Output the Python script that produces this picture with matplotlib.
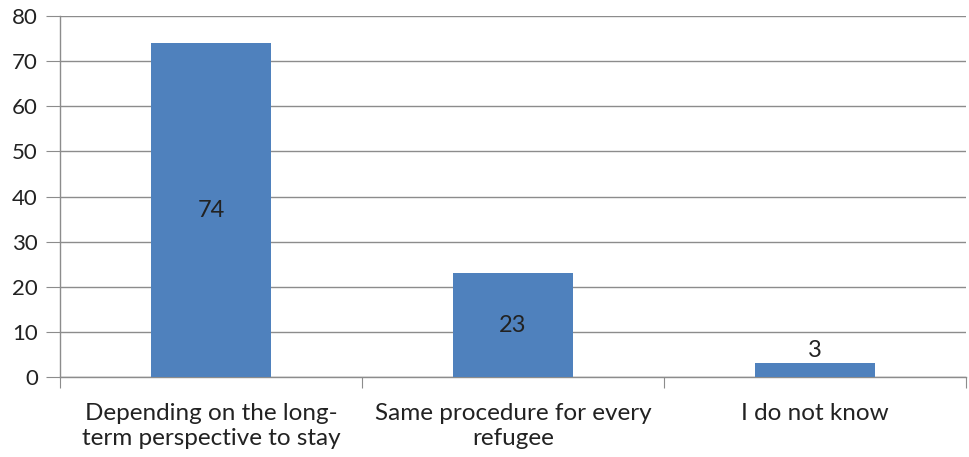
import matplotlib
matplotlib.use("Agg")
import matplotlib.pyplot as plt

categories = ["Depending on the long-\nterm perspective to stay",
              "Same procedure for every\nrefugee",
              "I do not know"]
values = [74, 23, 3]
y_ticks = [0, 10, 20, 30, 40, 50, 60, 70, 80]

plt.rcParams["font.family"] = ["Lato", "DejaVu Sans"]

fig = plt.figure(figsize=(9.7, 4.57), dpi=100)
ax = fig.add_axes([0.0619, 0.175, 0.934, 0.79])

positions = list(range(len(values)))
bars = ax.bar(positions, values, width=0.4, color="#4F81BD", zorder=3)

# labels: centred inside tall bars, above the short one
for x, v in zip(positions, values):
    if v > 10:
        ax.text(x, v / 2, str(v), ha="center", va="center", fontsize=17, color="#222222", zorder=4)
    else:
        ax.text(x, v + 0.5, str(v), ha="center", va="bottom", fontsize=17, color="#222222", zorder=4)

ax.set_xlim(-0.5, 2.5)
ax.set_ylim(0, 80)
ax.set_yticks(y_ticks)
ax.yaxis.grid(True, color="#8c8c8c", linewidth=1.0, zorder=0)
ax.set_axisbelow(True)

ax.set_xticks([-0.5, 0.5, 1.5, 2.5])
ax.set_xticklabels([])
ax.set_xticks(positions, minor=True)
ax.set_xticklabels(categories, minor=True, fontsize=17.5, color="#222222", linespacing=1.2)
ax.tick_params(axis="x", which="minor", length=0, pad=19)
ax.tick_params(axis="x", which="major", length=8, color="#8c8c8c", direction="out")
ax.tick_params(axis="y", length=10, color="#8c8c8c", labelsize=16, labelcolor="#222222", pad=6)

for side in ["top", "right"]:
    ax.spines[side].set_visible(False)
for side in ["left", "bottom"]:
    ax.spines[side].set_color("#8c8c8c")
    ax.spines[side].set_linewidth(1.0)

fig.savefig("out.png", dpi=100)
